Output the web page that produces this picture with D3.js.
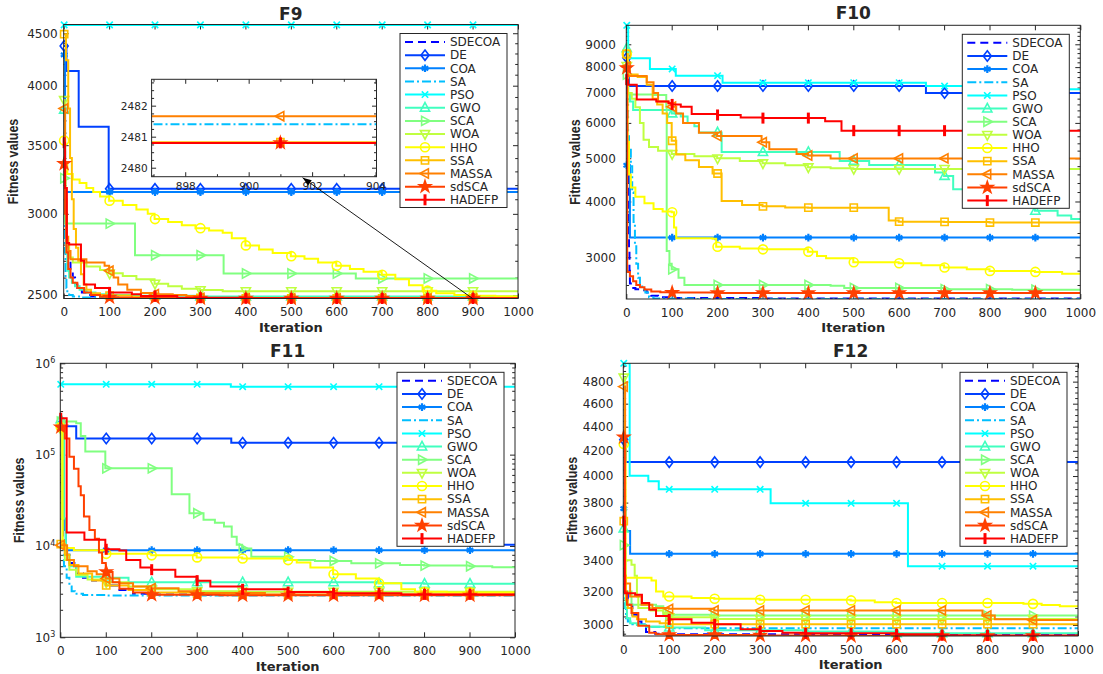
<!DOCTYPE html>
<html><head><meta charset="utf-8">
<script src="https://cdn.jsdelivr.net/npm/d3@7"></script>
<style>
body{margin:0;background:#fff;}
svg text{font-family:"DejaVu Sans",sans-serif;fill:#262626;}
</style></head><body>
<svg id="chart" width="1103" height="674"></svg>
<script>
// ---------------- shared data ----------------
const seriesNames = ["SDECOA","DE","COA","SA","PSO","GWO","SCA","WOA","HHO","SSA","MASSA","sdSCA","HADEFP"];
const seriesColors = ["#0000ff","#0040ff","#0080ff","#00bfff","#00ffff","#40ffbf","#80ff80","#bfff40","#ffff00","#ffbf00","#ff8000","#ff4000","#ff0000"];
const seriesMarkers = ["none","diamond","asterisk","none","times","triUp","triRight","triDown","circle","square","triLeft","star","vbar"];
const seriesDash = ["8,5",null,null,"9,3,2,3",null,null,null,null,null,null,null,null,null];
const xTickValues = [0,100,200,300,400,500,600,700,800,900,1000];
const markerIters = [1,101,201,301,401,501,601,701,801,901];

// ---------------- F9 ----------------
const F9_yDomain = [2480.8, 4589];
const F9_yTicks = [2500,3000,3500,4000,4500];
const F9_SDECOA = [[0,3450],[3,3000],[6,2780],[10,2700],[15,2640],[20,2600],[25,2560],[30,2540],[40,2515],[50,2500],[60,2492],[80,2486],[120,2483],[200,2481.5],[300,2481],[450,2480.8],[1000,2480.8]];
const F9_DE = [[0,4374],[6,4135],[33,3647],[99,3173],[1000,3173]];
const F9_COA = [[0,4286],[3,3150],[1000,3150]];
const F9_SA = [[0,3000],[2,2750],[4,2600],[6,2540],[8,2515],[12,2500],[20,2492],[40,2487],[80,2484],[150,2482.5],[250,2481.8],[400,2481.5],[500,2481.4],[1000,2481.4]];
const F9_PSO = [[0,4585],[1000,4585]];
const F9_GWO = [[0,3790],[3,3050],[5,2750],[8,2640],[12,2600],[18,2570],[25,2550],[35,2530],[50,2515],[70,2505],[100,2500],[150,2496],[300,2492],[1000,2492]];
const F9_SCA = [[0,3250],[3,2935],[157,2734],[352,2624],[643,2595],[1000,2595]];
const F9_WOA = [[0,3873],[2,3300],[4,3000],[7,2800],[12,2720],[20,2690],[50,2665],[80,2645],[100,2625],[130,2610],[160,2590],[200,2565],[230,2550],[260,2535],[300,2528],[350,2522],[1000,2522]];
const F9_HHO = [[0,3537],[3,3350],[8,3280],[20,3240],[35,3215],[50,3180],[65,3150],[80,3120],[100,3090],[130,3060],[160,3030],[185,3000],[200,2965],[230,2945],[260,2925],[290,2905],[320,2890],[350,2875],[370,2840],[400,2795],[430,2770],[460,2748],[500,2728],[530,2712],[560,2690],[600,2670],[630,2650],[660,2635],[700,2617],[730,2590],[760,2555],[790,2525],[820,2510],[860,2500],[900,2496],[950,2494],[1000,2494]];
const F9_SSA = [[0,4490],[5,4236],[10,3800],[14,3400],[18,3100],[22,2900],[27,2780],[32,2700],[38,2620],[44,2560],[50,2530],[60,2510],[80,2500],[100,2497],[150,2490],[250,2484],[400,2481.5],[550,2480.82],[1000,2480.82]];
const F9_MASSA = [[0,3800],[3,3100],[6,2850],[10,2760],[15,2710],[50,2690],[90,2670],[100,2640],[110,2600],[120,2560],[140,2530],[170,2512],[200,2505],[240,2500],[270,2495],[300,2484],[400,2482],[500,2481.66],[1000,2481.66]];
const F9_sdSCA = [[0,3357],[3,3000],[6,2750],[10,2650],[15,2600],[20,2570],[30,2540],[45,2515],[60,2500],[80,2490],[100,2487],[150,2484],[250,2482],[400,2480.8],[1000,2480.8]];
const F9_HADEFP = [[0,3520],[3,3180],[7,2810],[12,2800],[38,2700],[45,2560],[69,2540],[100,2515],[150,2505],[170,2495],[250,2485],[400,2481.5],[500,2480.8],[1000,2480.8]];
const F9_series = [F9_SDECOA,F9_DE,F9_COA,F9_SA,F9_PSO,F9_GWO,F9_SCA,F9_WOA,F9_HHO,F9_SSA,F9_MASSA,F9_sdSCA,F9_HADEFP];
// inset of F9
const F9_insetXDomain = [896.94, 904.03];
const F9_insetYDomain = [2479.71, 2482.85];
const F9_insetXTicks = [898,900,902,904];
const F9_insetYTicks = [2480,2481,2482];
const F9_arrowFrom = [900, 2480.8];
const F9_arrowToInsetX = 901.7;

// ---------------- F10 ----------------
const F10_yDomain = [2419, 9926];
const F10_yTicks = [3000,4000,5000,6000,7000,8000,9000];
const F10_SDECOA = [[0,8300],[2,6500],[3,5200],[4,4300],[5,3600],[6,3100],[7,2800],[8,2620],[10,2560],[20,2545],[35,2530],[45,2500],[55,2460],[70,2440],[100,2430],[300,2425],[1000,2425]];
const F10_DE = [[0,8400],[6,7257],[660,6997],[1000,6997]];
const F10_COA = [[0,4823],[8,3320],[1000,3320]];
const F10_SA = [[0,5600],[6,5300],[10,4800],[13,4200],[16,3600],[19,3200],[22,2900],[26,2700],[30,2600],[35,2540],[42,2500],[50,2440],[60,2425],[150,2420],[1000,2420]];
const F10_PSO = [[0,9926],[4,8371],[52,7924],[109,7655],[212,7384],[660,7257],[950,7133],[1000,7133]];
const F10_GWO = [[0,8815],[4,7000],[8,6700],[15,6414],[100,6300],[120,6200],[135,6000],[150,5900],[160,5710],[210,5162],[470,4929],[535,4830],[680,4645],[700,4564],[720,4262],[780,4200],[820,4100],[850,3972],[880,3900],[900,3813],[950,3720],[980,3656],[1000,3656]];
const F10_SCA = [[0,7700],[4,6950],[60,6930],[88,6500],[89,3100],[95,2900],[100,2820],[115,2700],[128,2600],[450,2590],[480,2560],[700,2545],[850,2537],[1000,2537]];
const F10_WOA = [[0,8049],[4,7000],[12,6800],[20,6500],[30,6000],[38,5500],[50,5300],[70,5200],[100,5110],[150,5050],[200,4997],[250,4930],[300,4872],[350,4820],[400,4772],[450,4750],[500,4733],[1000,4733]];
const F10_HHO = [[0,8560],[3,5441],[6,4600],[10,4300],[20,4100],[40,3966],[60,3850],[80,3800],[100,3784],[105,3500],[110,3309],[190,3300],[198,3168],[250,3140],[300,3125],[400,3088],[420,3020],[440,2985],[500,2924],[600,2909],[650,2880],[700,2845],[750,2820],[800,2796],[900,2782],[960,2754],[1000,2754]];
const F10_SSA = [[0,8560],[3,7700],[25,7600],[45,7300],[58,6800],[68,6600],[80,6300],[90,6000],[100,5472],[110,5100],[130,4950],[160,4780],[190,4622],[210,4012],[255,3930],[300,3901],[350,3880],[400,3875],[578,3627],[600,3605],[700,3600],[800,3588],[1000,3588]];
const F10_MASSA = [[0,8022],[3,7641],[30,7641],[45,7400],[60,7000],[70,6700],[93,6637],[100,6520],[110,6300],[125,6000],[160,5700],[200,5607],[298,5430],[315,5240],[375,5110],[400,5070],[450,4995],[1000,4995]];
const F10_sdSCA = [[0,7970],[2,2780],[8,2720],[15,2650],[22,2600],[30,2570],[40,2540],[55,2515],[75,2505],[100,2500],[200,2495],[1000,2495]];
const F10_HADEFP = [[0,7500],[4,7300],[23,6770],[66,6700],[93,6640],[100,6600],[120,6520],[144,6280],[200,6250],[252,6170],[300,6150],[438,6050],[474,5764],[1000,5764]];
const F10_series = [F10_SDECOA,F10_DE,F10_COA,F10_SA,F10_PSO,F10_GWO,F10_SCA,F10_WOA,F10_HHO,F10_SSA,F10_MASSA,F10_sdSCA,F10_HADEFP];

// ---------------- F11 ----------------
const F11_yDomain = [1e3, 1e6];
const F11_yTicks = [1e3,1e4,1e5,1e6];
const F11_SDECOA = [[0,2.0e5],[3,3e4],[6,1.2e4],[10,8e3],[20,6.5e3],[35,5.0e3],[50,4.5e3],[70,4.2e3],[100,3.7e3],[130,3.3e3],[160,3.0e3],[200,2.95e3],[300,2.9e3],[1000,2.9e3]];
const F11_DE = [[0,2.05e5],[35,1.50e5],[376,1.35e5],[960,1.03e4],[1000,1.03e4]];
const F11_COA = [[0,2.2e5],[8,1.5e4],[12,9.0e3],[1000,9.0e3]];
const F11_SA = [[0,1.0e4],[8,6.0e3],[14,4.5e3],[20,3.6e3],[25,3.2e3],[32,3.0e3],[50,2.9e3],[100,2.86e3],[1000,2.86e3]];
const F11_PSO = [[0,5.89e5],[375,5.55e5],[1000,5.55e5]];
const F11_GWO = [[0,2.44e5],[8,2.0e4],[12,8e3],[20,6e3],[35,4.6e3],[100,4.5e3],[150,4.0e3],[700,3.9e3],[800,3.85e3],[1000,3.85e3]];
const F11_SCA = [[0,2.3e5],[35,2.2e5],[45,1.6e5],[55,1.08e5],[99,7.08e4],[245,3.68e4],[284,2.28e4],[315,1.94e4],[340,1.8e4],[360,1.63e4],[377,1.26e4],[388,1.03e4],[400,9.4e3],[420,7.6e3],[508,7.0e3],[560,6.85e3],[640,6.45e3],[747,6.2e3],[800,6.1e3],[900,6.0e3],[950,5.83e3],[1000,5.83e3]];
const F11_WOA = [[0,1.91e5],[3,2e4],[5,1.0e4],[10,7e3],[20,5.5e3],[35,4.8e3],[60,4.3e3],[100,4.0e3],[150,3.6e3],[200,3.35e3],[300,3.2e3],[400,3.16e3],[1000,3.16e3]];
const F11_HHO = [[0,2.0e5],[5,9.5e3],[30,9.0e3],[100,8.2e3],[200,7.9e3],[300,7.5e3],[400,7.3e3],[500,7.0e3],[520,6.6e3],[550,5.8e3],[600,4.9e3],[650,4.4e3],[700,3.9e3],[750,3.35e3],[780,3.15e3],[850,3.1e3],[1000,3.1e3]];
const F11_SSA = [[0,1.05e4],[10,8.0e3],[20,6.2e3],[40,5.0e3],[70,4.2e3],[100,3.7e3],[150,3.3e3],[200,3.1e3],[300,3.0e3],[400,2.92e3],[1000,2.92e3]];
const F11_MASSA = [[0,1.02e4],[15,7.0e3],[30,6.0e3],[60,5.3e3],[80,4.9e3],[100,4.4e3],[130,3.9e3],[160,3.6e3],[200,3.45e3],[260,3.2e3],[300,3.05e3],[450,2.95e3],[1000,2.95e3]];
const F11_sdSCA = [[0,2.0e5],[10,1.5e5],[20,9.5e4],[30,7e4],[40,4.5e4],[45,3.6e4],[52,2.1e4],[64,1.5e4],[76,1.2e4],[85,8.5e3],[92,6.5e3],[100,5.2e3],[115,4.0e3],[130,3.4e3],[160,3.1e3],[200,2.92e3],[350,2.88e3],[1000,2.88e3]];
const F11_HADEFP = [[0,2.5e5],[14,1.40e4],[53,1.17e4],[99,9.2e3],[130,8.9e3],[145,7.0e3],[176,5.8e3],[200,5.5e3],[253,4.6e3],[300,4.17e3],[330,3.6e3],[400,3.35e3],[500,3.13e3],[600,3.03e3],[750,2.95e3],[1000,2.95e3]];
const F11_series = [F11_SDECOA,F11_DE,F11_COA,F11_SA,F11_PSO,F11_GWO,F11_SCA,F11_WOA,F11_HHO,F11_SSA,F11_MASSA,F11_sdSCA,F11_HADEFP];

// ---------------- F12 ----------------
const F12_yDomain = [2937, 4973];
const F12_yTicks = [3000,3200,3400,3600,3800,4000,4200,4400,4600,4800];
const F12_SDECOA = [[0,4280],[3,3300],[5,3200],[10,3120],[20,3060],[30,3020],[40,2990],[50,2960],[70,2950],[100,2947],[1000,2947]];
const F12_DE = [[0,4290],[5,4109],[1000,4109]];
const F12_COA = [[0,3756],[5,3598],[15,3442],[1000,3442]];
const F12_SA = [[0,3450],[3,3100],[6,3040],[10,3020],[20,3005],[50,2990],[100,2981],[1000,2981]];
const F12_PSO = [[0,4973],[14,4002],[55,3960],[78,3899],[324,3795],[626,3361],[1000,3361]];
const F12_GWO = [[0,3614],[3,3300],[5,3100],[8,3040],[15,3010],[30,3000],[50,2990],[100,2985],[180,2970],[400,2962],[600,2952],[1000,2952]];
const F12_SCA = [[0,3500],[5,3200],[18,3120],[72,3110],[88,3060],[200,3055],[1000,3055]];
const F12_WOA = [[0,4838],[3,3400],[18,3370],[25,3300],[30,3170],[33,3100],[60,3085],[88,3072],[100,3045],[200,3035],[1000,3035]];
const F12_HHO = [[0,4255],[5,3286],[62,3270],[72,3200],[88,3170],[150,3160],[200,3156],[300,3150],[500,3146],[553,3135],[600,3130],[880,3125],[920,3118],[960,3111],[1000,3111]];
const F12_SSA = [[0,3666],[3,3300],[6,3150],[10,3100],[20,3050],[30,3033],[50,3020],[80,3010],[100,3005],[1000,3005]];
const F12_MASSA = [[0,4754],[4,3250],[15,3170],[40,3120],[64,3100],[100,3095],[200,3086],[781,3086],[790,3056],[817,3033],[900,3029],[1000,3029]];
const F12_sdSCA = [[0,4312],[3,3200],[8,3120],[18,3070],[33,2995],[57,2956],[72,2947],[100,2943],[300,2940],[500,2937],[1000,2937]];
const F12_HADEFP = [[0,3666],[3,3190],[26,3180],[41,3130],[57,3090],[72,3053],[100,3033],[150,3013],[200,3004],[258,2975],[300,2965],[350,2956],[400,2952],[600,2947],[700,2941],[800,2940],[1000,2940]];
const F12_series = [F12_SDECOA,F12_DE,F12_COA,F12_SA,F12_PSO,F12_GWO,F12_SCA,F12_WOA,F12_HHO,F12_SSA,F12_MASSA,F12_sdSCA,F12_HADEFP];

// ---------------- drawing ----------------
const axisColor = "#262626";
const svg = d3.select("#chart");
svg.append("rect").attr("width",1103).attr("height",674).attr("fill","#fff");
const defs = svg.append("defs");

function markerPath(type){
  switch(type){
    case "diamond": return "M0,-5.2L4,0L0,5.2L-4,0Z";
    case "square": return "M-3.6,-3.6H3.6V3.6H-3.6Z";
    case "circle": return d3.symbol(d3.symbolCircle, 64)();
    case "triUp": return "M0,-5.2L4.6,3.4L-4.6,3.4Z";
    case "triDown": return "M0,5.2L4.6,-3.4L-4.6,-3.4Z";
    case "triRight": return "M5.2,0L-3.4,-4.6L-3.4,4.6Z";
    case "triLeft": return "M-5.2,0L3.4,-4.6L3.4,4.6Z";
    case "times": return "M-3.2,-3.2L3.2,3.2M-3.2,3.2L3.2,-3.2";
    case "asterisk": return d3.symbol(d3.symbolAsterisk, 40)();
    case "star": return d3.symbol(d3.symbolStar, 40)();
    case "vbar": return "M0,-5.5V5.5";
  }
  return null;
}
function drawMarker(g, i, px, py){
  const type = seriesMarkers[i];
  if (type === "none") return;
  g.append("path").attr("d", markerPath(type))
    .attr("transform", `translate(${px},${py})`)
    .attr("fill", type === "star" ? seriesColors[i] : "none")
    .attr("stroke", seriesColors[i])
    .attr("stroke-width", type === "vbar" ? 3 : (type === "asterisk" ? 2.2 : 1.6));
}
function stepVal(data, it){
  let v = data[0][1];
  for (const [a,b] of data) if (a <= it) v = b;
  return v;
}
function styleAxis(sel, fontSize){
  sel.attr("font-size", null).attr("font-family", null);
  sel.select(".domain").remove();
  sel.selectAll(".tick line").attr("stroke", axisColor).attr("stroke-width", 1);
  sel.selectAll(".tick text").attr("fill", axisColor).style("font-size", fontSize + "px");
}

function drawSeries(g, series, x, y, clipId, markerSel){
  const line = d3.line().x(d => x(d[0])).y(d => y(d[1])).curve(d3.curveStepAfter);
  series.forEach((data, i) => {
    const sg = g.append("g");
    sg.append("path").attr("d", line(data))
      .attr("clip-path", `url(#${clipId})`)
      .attr("fill", "none").attr("stroke", seriesColors[i])
      .attr("stroke-width", 2)
      .attr("stroke-dasharray", seriesDash[i])
      .attr("stroke-linejoin", "miter");
    markerIters.filter(markerSel).forEach(m => drawMarker(sg, i, x(m), y(stepVal(data, m))));
  });
}

function drawPanel(p){
  const [L,T,R,B] = p.box;
  const x = d3.scaleLinear().domain([0,1000]).range([L,R]);
  const y = d3.scaleLog().domain(p.yDomain).range([B,T]);
  const g = svg.append("g");
  const clipId = "clip" + p.title;
  defs.append("clipPath").attr("id", clipId).append("rect")
    .attr("x", L).attr("y", T).attr("width", R-L).attr("height", B-T);

  g.append("g").attr("transform", `translate(${L},0)`)
    .call(d3.axisLeft(y).tickValues(p.yMinor).tickSizeInner(-2.8).tickSizeOuter(0).tickFormat(""))
    .call(s => styleAxis(s, 12));
  g.append("g").attr("transform", `translate(${R},0)`)
    .call(d3.axisRight(y).tickValues(p.yMinor).tickSizeInner(-2.8).tickSizeOuter(0).tickFormat(""))
    .call(s => styleAxis(s, 12));
  const left = g.append("g").attr("transform", `translate(${L},0)`)
    .call(d3.axisLeft(y).tickValues(p.yTicks).tickSizeInner(-5).tickSizeOuter(0).tickPadding(p.yPad).tickFormat(d3.format("d")))
    .call(s => styleAxis(s, 12));
  if (p.log10Labels){
    left.selectAll(".tick text").each(function(d){
      const t = d3.select(this);
      t.text("10");
      t.append("tspan").attr("dy", "-0.55em").style("font-size", "8px").text(Math.round(Math.log10(d)));
    });
  }
  g.append("g").attr("transform", `translate(${R},0)`)
    .call(d3.axisRight(y).tickValues(p.yTicks).tickSizeInner(-5).tickSizeOuter(0).tickFormat(""))
    .call(s => styleAxis(s, 12));
  g.append("g").attr("transform", `translate(0,${B})`)
    .call(d3.axisBottom(x).tickValues(xTickValues).tickSizeInner(-5).tickSizeOuter(0).tickPadding(9).tickFormat(d3.format("d")))
    .call(s => styleAxis(s, 12));
  g.append("g").attr("transform", `translate(0,${T})`)
    .call(d3.axisTop(x).tickValues(xTickValues).tickSizeInner(-5).tickSizeOuter(0).tickFormat(""))
    .call(s => styleAxis(s, 12));

  drawSeries(g, p.series, x, y, clipId, () => true);

  g.append("rect").attr("x", L).attr("y", T).attr("width", R-L).attr("height", B-T)
    .attr("fill", "none").attr("stroke", axisColor).attr("stroke-width", 1);

  g.append("text").attr("x", (L+R)/2).attr("y", p.titleY + 6.2)
    .attr("text-anchor", "middle").style("font-size", "17px").style("font-weight", "bold").text(p.title);
  g.append("text").attr("x", (L+R)/2).attr("y", B + 33.2)
    .attr("text-anchor", "middle").style("font-size", "13px").style("font-weight", "bold").text("Iteration");
  g.append("text")
    .attr("transform", `translate(${p.ylabelX},${(T+B)/2}) rotate(-90) scale(1,1.22)`)
    .attr("text-anchor", "middle").attr("dy", "0.36em")
    .style("font-family", "'Liberation Sans', Arial, sans-serif")
    .style("font-size", "12.4px").style("font-weight", "bold").text("Fitness values");

  return {x, y, g};
}

function drawLegend(p){
  const [L,T,R,B] = p.box;
  const w = 107, h = 174;
  const x0 = R - 11 - w, y0 = T + 9;
  const lg = svg.append("g");
  lg.append("rect").attr("x", x0).attr("y", y0).attr("width", w).attr("height", h)
    .attr("fill", "#fff").attr("stroke", axisColor).attr("stroke-width", 1);
  seriesNames.forEach((name, i) => {
    const cy = y0 + 8.5 + i * 13.15;
    lg.append("line").attr("x1", x0 + 5).attr("x2", x0 + 45).attr("y1", cy).attr("y2", cy)
      .attr("stroke", seriesColors[i]).attr("stroke-width", 2).attr("stroke-dasharray", seriesDash[i]);
    drawMarker(lg, i, x0 + 25, cy);
    lg.append("text").attr("x", x0 + 50).attr("y", cy).attr("dy", "0.36em")
      .style("font-size", "12px").text(name);
  });
}

const panels = [
  {title:"F9", series:F9_series, yDomain:F9_yDomain, yTicks:F9_yTicks, yMinor:d3.range(2500,4590,100).filter(v=>v%500), box:[63.7,24.5,518,298.5], titleY:13.3, ylabelX:12.7, yPad:6},
  {title:"F10", series:F10_series, yDomain:F10_yDomain, yTicks:F10_yTicks, yMinor:d3.range(2600,9926,200).filter(v=>v%1000), box:[626.3,25.3,1080.3,299], titleY:12.7, ylabelX:575, yPad:10.5},
  {title:"F11", series:F11_series, yDomain:F11_yDomain, yTicks:F11_yTicks, yMinor:[1e3,1e4,1e5].flatMap(d=>[2,3,4,5,6,7,8,9].map(k=>k*d)), box:[60.3,363.3,515,637.3], titleY:350.7, ylabelX:18.3, yPad:5, log10Labels:true},
  {title:"F12", series:F12_series, yDomain:F12_yDomain, yTicks:F12_yTicks, yMinor:d3.range(2950,4973,50).filter(v=>v%200), box:[623.3,363.3,1078,636], titleY:350.7, ylabelX:571.7, yPad:10}
];

const drawn = panels.map(drawPanel);

// ---------------- F9 inset ----------------
(function(){
  const main = drawn[0];
  const iL = 151.6, iR = 376.5, iT = 79.3, iB = 176.7;
  const ix = d3.scaleLinear().domain(F9_insetXDomain).range([iL, iR]);
  const iy = d3.scaleLinear().domain(F9_insetYDomain).range([iB, iT]);
  const g = svg.append("g");
  g.append("rect").attr("x", iL).attr("y", iT).attr("width", iR-iL).attr("height", iB-iT).attr("fill", "#fff");
  defs.append("clipPath").attr("id", "clipInset").append("rect")
    .attr("x", iL).attr("y", iT).attr("width", iR-iL).attr("height", iB-iT);
  const xMinor = [897,899,901,903];
  const yMinor = d3.range(2479.75, 2482.85, 0.25).filter(v => Math.abs(v - Math.round(v)) > 0.01);
  g.append("g").attr("transform", `translate(${iL},0)`).call(d3.axisLeft(iy).tickValues(yMinor).tickSizeInner(-2.5).tickSizeOuter(0).tickFormat("")).call(s=>styleAxis(s,10));
  g.append("g").attr("transform", `translate(${iR},0)`).call(d3.axisRight(iy).tickValues(yMinor).tickSizeInner(-2.5).tickSizeOuter(0).tickFormat("")).call(s=>styleAxis(s,10));
  g.append("g").attr("transform", `translate(0,${iB})`).call(d3.axisBottom(ix).tickValues(xMinor).tickSizeInner(-2.5).tickSizeOuter(0).tickFormat("")).call(s=>styleAxis(s,10));
  g.append("g").attr("transform", `translate(0,${iT})`).call(d3.axisTop(ix).tickValues(xMinor).tickSizeInner(-2.5).tickSizeOuter(0).tickFormat("")).call(s=>styleAxis(s,10));
  g.append("g").attr("transform", `translate(${iL},0)`).call(d3.axisLeft(iy).tickValues(F9_insetYTicks).tickSizeInner(-4.5).tickSizeOuter(0).tickPadding(4).tickFormat(d3.format("d"))).call(s=>styleAxis(s,10.5));
  g.append("g").attr("transform", `translate(${iR},0)`).call(d3.axisRight(iy).tickValues(F9_insetYTicks).tickSizeInner(-4.5).tickSizeOuter(0).tickFormat("")).call(s=>styleAxis(s,10.5));
  g.append("g").attr("transform", `translate(0,${iB})`).call(d3.axisBottom(ix).tickValues(F9_insetXTicks).tickSizeInner(-4.5).tickSizeOuter(0).tickPadding(5.5).tickFormat(d3.format("d"))).call(s=>styleAxis(s,10.5));
  g.append("g").attr("transform", `translate(0,${iT})`).call(d3.axisTop(ix).tickValues(F9_insetXTicks).tickSizeInner(-4.5).tickSizeOuter(0).tickFormat("")).call(s=>styleAxis(s,10.5));
  drawSeries(g, F9_series, ix, iy, "clipInset", m => m >= F9_insetXDomain[0] && m <= F9_insetXDomain[1]);
  g.append("rect").attr("x", iL).attr("y", iT).attr("width", iR-iL).attr("height", iB-iT)
    .attr("fill", "none").attr("stroke", axisColor).attr("stroke-width", 1);

  const x1 = main.x(F9_arrowFrom[0]), y1 = main.y(F9_arrowFrom[1]);
  const x2 = ix(F9_arrowToInsetX), y2 = iB + 1;
  const ang = Math.atan2(y2 - y1, x2 - x1);
  svg.append("line").attr("x1", x1).attr("y1", y1).attr("x2", x2).attr("y2", y2)
    .attr("stroke", "#000").attr("stroke-width", 0.9);
  const hl = 9, hw = 3.2;
  const bx = x2 - hl*Math.cos(ang), by = y2 - hl*Math.sin(ang);
  svg.append("path")
    .attr("d", `M${x2},${y2}L${bx - hw*Math.sin(ang)},${by + hw*Math.cos(ang)}L${bx + hw*Math.sin(ang)},${by - hw*Math.cos(ang)}Z`)
    .attr("fill", "#000");
})();

panels.forEach(drawLegend);
</script>
</body></html>
